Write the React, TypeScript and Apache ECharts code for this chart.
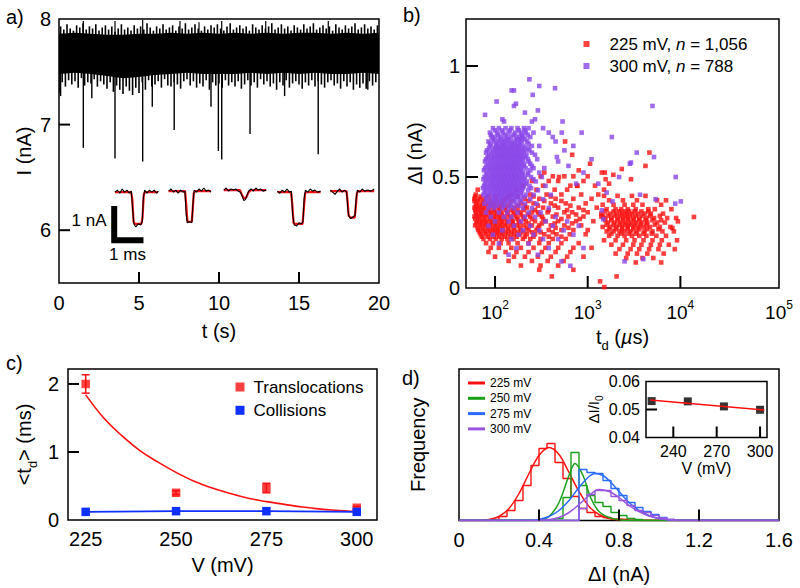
import React, { useEffect, useRef } from 'react';
import * as echarts from 'echarts';

const FONT = '"Liberation Sans", Arial, Helvetica, sans-serif';
const RED = '#ff1010';
const PURPLE = '#8a45e8';
const BLUE_C = '#1030ff';
const GREEN_D = '#19a019';
const BLUE_D = '#2a6aff';
const PURPLE_D = '#9a55e0';

// ---------------- Panel a: current trace ----------------
const aCoreT = [0, 1, 2, 3, 4, 5, 6, 7, 8, 9, 10, 11, 12, 13, 14, 15, 16, 17, 18, 19, 20];
const aCoreHigh = [7.86, 7.87, 7.86, 7.85, 7.85, 7.86, 7.86, 7.87, 7.86, 7.87, 7.86, 7.87, 7.86, 7.87, 7.86, 7.87, 7.87, 7.86, 7.87, 7.86, 7.87];
const aCoreLow = [7.48, 7.49, 7.48, 7.46, 7.44, 7.45, 7.47, 7.48, 7.49, 7.48, 7.48, 7.48, 7.49, 7.48, 7.49, 7.48, 7.49, 7.48, 7.48, 7.49, 7.48];
const aUpperTips = [
  7.93, 7.90, 7.95, 7.91, 7.89, 7.94, 7.92, 7.96, 7.90, 7.93,
  7.91, 7.95, 7.89, 7.92, 7.94, 7.90, 7.93, 7.88, 7.91, 7.95,
  7.90, 7.92, 7.89, 7.94, 7.91, 7.93, 7.90, 7.96, 7.92, 7.89,
  7.93, 7.91, 7.95, 7.90, 7.92, 7.94, 7.89, 7.93, 7.91, 7.96,
  7.90, 7.92, 7.95, 7.91, 7.89, 7.93, 7.90, 7.94, 7.92, 7.95,
  7.91, 7.89, 7.93, 7.96, 7.90, 7.92, 7.94, 7.91, 7.93, 7.89,
  7.95, 7.92, 7.90, 7.94, 7.91, 7.93, 7.96, 7.90, 7.92, 7.95,
  7.91, 7.93, 7.89, 7.94, 7.92, 7.90, 7.95, 7.91, 7.93, 7.96,
  7.90, 7.92, 7.94, 7.91, 7.93, 7.89, 7.95, 7.92, 7.90, 7.94,
  7.91, 7.93, 7.96, 7.90, 7.92, 7.95, 7.91, 7.93, 7.90, 7.94,
];
const aLowerTips = [
  7.30, 7.40, 7.36, 7.42, 7.38, 7.41, 7.35, 7.44, 7.37, 7.40,
  7.39, 7.43, 7.36, 7.41, 7.38, 7.34, 7.40, 7.31, 7.37, 7.33,
  7.29, 7.36, 7.32, 7.28, 7.35, 7.30, 7.40, 7.33, 7.42, 7.36,
  7.38, 7.41, 7.35, 7.43, 7.37, 7.36, 7.40, 7.38, 7.34, 7.41,
  7.43, 7.37, 7.41, 7.35, 7.39, 7.36, 7.42, 7.33, 7.40, 7.37,
  7.39, 7.35, 7.42, 7.37, 7.40, 7.36, 7.41, 7.34, 7.38, 7.42,
  7.37, 7.40, 7.35, 7.43, 7.38, 7.41, 7.36, 7.39, 7.33, 7.40,
  7.37, 7.42, 7.35, 7.39, 7.41, 7.38, 7.34, 7.40, 7.37, 7.42,
  7.36, 7.41, 7.38, 7.35, 7.40, 7.42, 7.37, 7.39, 7.34, 7.41,
  7.36, 7.40, 7.33, 7.38, 7.35, 7.39, 7.34, 7.41, 7.37, 7.40,
];
const aSpikeT = [0.1, 1.52, 2.05, 3.5, 5.23, 5.83, 7.2, 9.5, 9.96, 10.17, 11.94, 14.1, 16.2, 19.3];
const aSpikeMin = [7.27, 6.78, 7.25, 6.68, 6.65, 7.17, 6.95, 7.17, 6.75, 6.67, 6.91, 7.27, 6.72, 7.33];
const aUpSpikeT = [1.52, 3.5, 5.23, 7.56, 8.75, 10.17, 12.92, 16.83];
const aUpSpikeMax = [7.98, 7.98, 7.99, 7.98, 7.97, 7.98, 7.98, 7.98];

// Example events (inset traces drawn in panel a's own units)
const aEventBlack: number[][][] = [
  [[3.5, 6.36], [3.65, 6.38], [3.8, 6.35], [3.95, 6.39], [4.1, 6.36], [4.25, 6.38], [4.4, 6.35], [4.52, 6.37], [4.6, 6.2], [4.68, 6.06], [4.8, 6.03], [4.95, 6.06], [5.1, 6.05], [5.2, 6.08], [5.27, 6.3], [5.35, 6.38], [5.5, 6.35], [5.65, 6.38], [5.8, 6.36], [5.95, 6.38], [6.1, 6.35], [6.2, 6.37]],
  [[6.85, 6.37], [7.0, 6.39], [7.15, 6.36], [7.3, 6.38], [7.45, 6.35], [7.6, 6.38], [7.75, 6.36], [7.87, 6.37], [7.95, 6.15], [8.02, 6.07], [8.15, 6.08], [8.3, 6.07], [8.37, 6.25], [8.45, 6.38], [8.6, 6.36], [8.75, 6.39], [8.9, 6.37], [9.05, 6.4], [9.2, 6.37], [9.35, 6.38], [9.5, 6.36]],
  [[10.3, 6.38], [10.45, 6.4], [10.6, 6.37], [10.75, 6.39], [10.9, 6.38], [11.05, 6.39], [11.2, 6.37], [11.35, 6.36], [11.45, 6.32], [11.55, 6.28], [11.65, 6.29], [11.75, 6.33], [11.85, 6.37], [12.0, 6.39], [12.15, 6.37], [12.3, 6.4], [12.45, 6.38], [12.6, 6.39], [12.75, 6.37], [12.95, 6.38]],
  [[13.65, 6.37], [13.8, 6.35], [13.95, 6.38], [14.1, 6.36], [14.25, 6.39], [14.4, 6.36], [14.52, 6.37], [14.6, 6.15], [14.7, 6.05], [14.85, 6.04], [15.0, 6.07], [15.15, 6.06], [15.25, 6.08], [15.32, 6.3], [15.4, 6.38], [15.55, 6.36], [15.7, 6.39], [15.85, 6.37], [16.0, 6.38], [16.15, 6.36], [16.35, 6.37]],
  [[16.95, 6.38], [17.1, 6.36], [17.25, 6.34], [17.4, 6.37], [17.55, 6.39], [17.7, 6.36], [17.85, 6.38], [17.98, 6.36], [18.05, 6.2], [18.12, 6.13], [18.25, 6.11], [18.4, 6.13], [18.5, 6.14], [18.57, 6.3], [18.65, 6.38], [18.8, 6.36], [18.95, 6.39], [19.1, 6.37], [19.3, 6.38], [19.5, 6.37], [19.7, 6.39]],
];
const aEventFit: number[][][] = [
  [[3.5, 6.36], [4.5, 6.36], [4.58, 6.3], [4.66, 6.08], [4.75, 6.06], [5.15, 6.06], [5.22, 6.12], [5.3, 6.34], [5.38, 6.36], [6.2, 6.36]],
  [[6.85, 6.37], [7.88, 6.37], [7.95, 6.25], [8.02, 6.09], [8.1, 6.08], [8.3, 6.08], [8.36, 6.2], [8.42, 6.35], [8.5, 6.37], [9.5, 6.37]],
  [[10.3, 6.38], [11.3, 6.38], [11.45, 6.33], [11.55, 6.3], [11.7, 6.31], [11.85, 6.36], [12.0, 6.38], [12.95, 6.38]],
  [[13.65, 6.36], [14.5, 6.36], [14.58, 6.25], [14.66, 6.07], [14.75, 6.06], [15.22, 6.06], [15.3, 6.2], [15.38, 6.35], [15.45, 6.36], [16.35, 6.36]],
  [[16.95, 6.37], [17.97, 6.37], [18.04, 6.27], [18.1, 6.14], [18.2, 6.12], [18.48, 6.12], [18.55, 6.22], [18.62, 6.35], [18.7, 6.37], [19.7, 6.37]],
];
const aScaleBar = [[3.45, 6.23], [3.45, 5.905], [5.28, 5.905]];
const aTicksX = [5, 10, 15];
const aTicksY = [6, 7];

// ---------------- Panel b: scatter (t_d in µs, ΔI in nA) ----------------
const b225LeftRows: [number, number[]][] = [
  [0.503, [310, 420, 560, 700, 1000]],
  [0.482, [250, 380, 480, 900]],
  [0.461, [200, 330, 650, 770, 1200]],
  [0.443, [65, 170, 280, 440, 600, 1500]],
  [0.421, [62, 150, 240, 360, 520, 850, 1300]],
  [0.412, [61, 70, 86, 100, 140, 175, 260, 400]],
  [0.402, [60, 68, 78, 130, 210, 300, 450, 700, 1100]],
  [0.392, [60, 65, 75, 88, 104, 122, 150, 230, 340, 520]],
  [0.381, [63, 72, 82, 95, 115, 190, 260, 400, 580, 950]],
  [0.371, [62, 69, 78, 90, 103, 119, 140, 175, 210, 290, 440, 650]],
  [0.362, [60, 66, 74, 84, 96, 110, 128, 160, 220, 330, 480, 800, 1250]],
  [0.351, [61, 68, 76, 86, 98, 112, 130, 150, 175, 205, 270, 380, 600, 900]],
  [0.341, [62, 70, 79, 89, 101, 116, 135, 158, 185, 250, 290, 370, 560, 680, 1000]],
  [0.331, [63, 71, 80, 91, 104, 118, 138, 162, 190, 225, 300, 460, 750]],
  [0.322, [60, 67, 75, 85, 97, 110, 125, 145, 170, 200, 240, 320, 420, 620, 900, 1400]],
  [0.311, [61, 68, 77, 88, 100, 114, 130, 150, 175, 205, 250, 330, 520, 820]],
  [0.301, [64, 72, 81, 92, 104, 118, 135, 155, 180, 215, 270, 350, 480, 750, 1150]],
  [0.291, [63, 71, 80, 91, 103, 117, 133, 155, 185, 230, 320, 440, 680]],
  [0.282, [61, 69, 78, 88, 100, 113, 128, 148, 172, 205, 250, 300, 400, 560, 850]],
  [0.271, [65, 73, 83, 94, 106, 120, 137, 158, 185, 220, 290, 450, 620]],
  [0.261, [66, 75, 85, 96, 108, 122, 140, 162, 190, 230, 280, 380, 520, 700, 1000]],
  [0.251, [68, 78, 89, 101, 114, 130, 150, 175, 205, 250, 310, 420]],
  [0.242, [70, 80, 92, 105, 120, 138, 160, 185, 220, 270, 340, 460, 640, 950]],
  [0.231, [72, 84, 97, 111, 127, 148, 172, 210, 260, 380, 520]],
  [0.221, [75, 88, 102, 118, 136, 158, 200, 240, 310, 420, 580]],
  [0.202, [80, 95, 115, 140, 175, 230, 300, 380, 520, 800]],
  [0.181, [90, 110, 150, 190, 260, 350, 480, 700, 1100]],
  [0.162, [85, 130, 170, 230, 320, 450, 650]],
  [0.141, [100, 160, 210, 290, 400, 600, 900]],
  [0.122, [140, 250, 370, 550]],
  [0.101, [190, 310, 480]],
  [0.082, [300, 700]],
  [0.052, [410, 2050]],
];
const b225RightRows: [number, number[]][] = [
  [0.415, [1500, 2100, 3000, 4200]],
  [0.395, [1700, 2400, 3400, 5600, 7000]],
  [0.375, [1450, 1900, 2500, 3100, 3900, 6200]],
  [0.355, [1600, 2000, 2300, 2700, 3300, 4500, 5300, 8000]],
  [0.345, [1550, 1900, 2200, 2500, 2800, 3200, 3800, 4500]],
  [0.335, [1400, 1750, 2050, 2350, 2650, 3000, 3500, 4100, 4800, 6500]],
  [0.325, [1450, 1650, 1950, 2250, 2550, 2850, 3300, 3900, 4700, 6000]],
  [0.315, [1500, 1800, 2100, 2400, 2700, 3100, 3600, 4300, 5200, 7200, 9000]],
  [0.305, [1550, 1800, 2100, 2400, 2750, 3150, 3600, 4200, 5000, 6200]],
  [0.295, [1650, 1950, 2250, 2550, 2900, 3300, 3800, 4400, 5600, 6800]],
  [0.285, [1600, 1900, 2200, 2500, 2800, 3200, 3700, 4300, 5300]],
  [0.275, [1450, 1750, 2050, 2350, 2700, 3100, 3500, 4000, 4700, 6000, 7800]],
  [0.265, [1700, 2000, 2350, 2700, 3100, 3600, 4400, 5800]],
  [0.255, [1600, 1900, 2200, 2500, 2900, 3400, 4100, 5000, 6400, 8500]],
  [0.245, [1800, 2300, 2800, 3300, 4000, 4900]],
  [0.235, [1700, 2100, 2500, 3000, 3600, 4300, 5500, 7000]],
  [0.215, [1500, 2000, 2600, 3200, 4000, 5000, 6300, 9200]],
  [0.195, [1800, 2400, 3100, 3800, 4800, 6000, 7500]],
  [0.175, [2200, 2900, 3600, 4600, 5800, 8700]],
  [0.155, [2000, 2700, 3400, 4400, 6600]],
  [0.135, [2600, 3900, 5100]],
  [0.115, [3300, 6200]],
];
const b225Extra = [
  [570, 0.66], [680, 0.6], [1060, 0.56], [340, 0.52], [1530, 0.52], [490, 0.5], [770, 0.46], [4630, 0.61],
  [2330, 0.536], [2930, 0.49], [1420, 0.52], [1560, 0.49], [1700, 0.47], [1890, 0.51], [14000, 0.32],
  [4200, 0.55], [800, 0.53], [1360, 0.03], [1510, 0.004], [9400, 0.3], [8200, 0.27],
];
const b300Rows: [number, number[]][] = [
  [0.72, [95, 110, 130, 150, 175, 205, 230]],
  [0.71, [100, 118, 145, 180, 210]],
  [0.70, [88, 105, 122, 140, 165, 190, 215, 260]],
  [0.69, [90, 108, 128, 158, 195, 225]],
  [0.68, [92, 100, 115, 135, 150, 170, 185, 200, 240]],
  [0.67, [95, 112, 126, 140, 172, 190, 212]],
  [0.66, [85, 98, 108, 120, 132, 145, 160, 178, 195, 222]],
  [0.65, [88, 104, 118, 130, 148, 164, 186, 230]],
  [0.64, [90, 102, 112, 124, 138, 152, 168, 183, 205, 250, 300]],
  [0.63, [86, 100, 110, 121, 134, 147, 162, 178, 198, 225]],
  [0.62, [82, 95, 105, 116, 128, 142, 156, 172, 190, 212, 235]],
  [0.61, [80, 91, 102, 113, 124, 137, 151, 166, 183, 203, 250]],
  [0.60, [86, 97, 108, 119, 131, 145, 160, 176, 194, 218, 270]],
  [0.59, [83, 94, 105, 116, 127, 140, 155, 171, 189, 212]],
  [0.58, [80, 90, 100, 111, 122, 134, 148, 163, 180, 200, 226, 285]],
  [0.57, [78, 88, 99, 110, 121, 133, 146, 160, 176, 195, 230]],
  [0.56, [84, 94, 104, 115, 126, 139, 153, 168, 186, 206, 240]],
  [0.55, [81, 91, 101, 112, 124, 137, 151, 166, 183, 204, 250]],
  [0.54, [78, 88, 98, 108, 119, 131, 144, 158, 174, 192, 215, 260, 340]],
  [0.53, [76, 86, 96, 106, 117, 129, 142, 156, 172, 190, 240]],
  [0.52, [82, 92, 102, 112, 123, 135, 148, 163, 180, 199, 225, 300]],
  [0.51, [80, 90, 100, 111, 122, 134, 147, 161, 177, 197, 228]],
  [0.50, [77, 86, 96, 106, 117, 128, 140, 154, 170, 188, 210, 245, 320]],
  [0.49, [75, 84, 94, 104, 115, 126, 138, 151, 166, 183, 204, 260]],
  [0.48, [80, 90, 100, 110, 121, 133, 146, 161, 177, 196, 220, 275]],
  [0.47, [78, 88, 98, 108, 119, 130, 143, 157, 173, 192, 215]],
  [0.46, [76, 85, 95, 105, 115, 126, 138, 152, 167, 185, 205, 235, 350]],
  [0.45, [74, 83, 93, 103, 113, 124, 136, 149, 164, 181, 200, 245]],
  [0.44, [79, 89, 99, 109, 120, 132, 145, 160, 176, 195, 228, 290]],
  [0.43, [77, 87, 97, 107, 118, 129, 141, 155, 171, 190]],
  [0.42, [75, 84, 94, 104, 114, 125, 137, 151, 168, 190, 215, 260, 400]],
  [0.41, [82, 97, 110, 122, 138, 155, 175, 205]],
  [0.40, [80, 92, 103, 116, 130, 146, 165, 185, 240, 330]],
  [0.39, [84, 96, 108, 120, 136, 158, 190]],
  [0.38, [77, 88, 100, 113, 128, 145, 170, 210, 280]],
  [0.37, [90, 105, 125, 150, 180]],
  [0.36, [85, 98, 120, 140, 160, 200, 250, 380]],
  [0.34, [80, 110, 135, 175, 230, 310]],
  [0.32, [90, 125, 150, 210, 270, 450]],
  [0.30, [100, 140, 190, 350, 600]],
  [0.28, [85, 160, 240, 420, 800]],
  [0.26, [120, 200, 300, 550]],
  [0.24, [95, 180, 260, 700]],
  [0.22, [150, 330, 480]],
  [0.20, [110, 230]],
  [0.18, [170, 380, 900]],
  [0.15, [140, 290]],
  [0.12, [520, 2500]],
  [0.10, [650]],
];
const b300Extra = [
  [235, 0.94], [444, 0.9], [300, 0.91], [151, 0.89], [160, 0.89], [104, 0.84], [255, 0.87], [160, 0.82],
  [78, 0.78], [535, 0.75], [860, 0.7], [168, 0.83], [290, 0.8], [210, 0.79], [120, 0.76], [125, 0.75],
  [250, 0.75], [270, 0.76], [330, 0.72], [1820, 0.68], [3380, 0.61], [5190, 0.59], [2930, 0.565],
  [8900, 0.5], [10100, 0.39], [8800, 0.38], [5400, 0.4], [3670, 0.42], [2180, 0.5], [1600, 0.43],
  [1850, 0.39], [1470, 0.31], [3980, 0.13], [1420, 0.35], [5000, 0.82], [700, 0.64], [1100, 0.58],
  [560, 0.62], [450, 0.66], [380, 0.7], [620, 0.55], [900, 0.52], [1300, 0.47], [480, 0.57], [750, 0.47],
  [525, 0.7], [420, 0.68], [465, 0.59], [2850, 0.56],
];
const bTicksX = [100, 1000, 10000];
const bTicksY = [0.5, 1];

// ---------------- Panel c ----------------
const cV = [225, 250, 275, 300];
const cTransMean = [2.0, 0.4, 0.47, 0.18];
const cTransErr = [0.135, 0.03, 0.07, 0.02];
const cCollMean = [0.12, 0.13, 0.13, 0.12];
const cFitV = [225, 230, 235, 240, 245, 250, 255, 260, 265, 270, 275, 280, 285, 290, 295, 300];
const cFitY = [1.84, 1.5, 1.24, 1.02, 0.85, 0.7, 0.57, 0.47, 0.39, 0.32, 0.27, 0.23, 0.19, 0.16, 0.14, 0.12];
const cTicksY = [1, 2];

// ---------------- Panel d ----------------
const dBinWidth = 0.04;
const dHistStart = [0.16, 0.48, 0.6, 0.6];
const dHist225 = [1, 4, 10, 20, 35, 55, 72, 77, 58, 42, 24, 12, 8, 4, 3, 1.5, 1];
const dHist250 = [2, 23, 68, 35, 25, 18, 14, 8, 5, 2, 1];
const dHist275 = [51, 48, 47, 40, 32, 25, 18, 13, 9, 6, 3, 1];
const dHist300 = [12, 26, 30, 30, 24, 20, 15, 10, 8, 5, 2.5, 1];
const dFit225X = [0.1, 0.15, 0.2, 0.25, 0.3, 0.35, 0.4, 0.45, 0.5, 0.55, 0.6, 0.65, 0.7, 0.75, 0.8, 0.9];
const dFit225Y = [0, 1, 4, 12, 27, 47, 65, 73, 66, 48, 29, 14, 6, 2, 0.7, 0];
const dFit250X = [0.4, 0.45, 0.5, 0.55, 0.58, 0.62, 0.66, 0.7, 0.75, 0.8, 0.85];
const dFit250Y = [0.5, 4, 18, 45, 57, 45, 22, 9, 3, 0.8, 0];
const dFit275X = [0.35, 0.4, 0.45, 0.5, 0.55, 0.6, 0.65, 0.68, 0.72, 0.76, 0.8, 0.85, 0.9, 0.95, 1.0, 1.05, 1.1];
const dFit275Y = [0, 1, 4, 10, 20, 33, 44, 47, 45, 38, 29, 18, 10, 5, 2, 0.7, 0];
const dFit300X = [0.4, 0.45, 0.5, 0.55, 0.6, 0.65, 0.7, 0.75, 0.8, 0.85, 0.9, 0.95, 1.0, 1.05, 1.1, 1.15];
const dFit300Y = [0, 1, 3, 8, 16, 25, 31, 29, 23, 15, 9, 4.5, 2, 0.7, 0.2, 0];
const dLegend = ['225 mV', '250 mV', '275 mV', '300 mV'];
const dTicksX = [0.4, 0.8, 1.2];
const dInsetV = [225, 250, 275, 300];
const dInsetY = [0.053, 0.0529, 0.0511, 0.0499];
const dInsetFit = [[224, 0.0534], [303, 0.0498]];
const dInsetTicksX = [240, 270, 300];
const dInsetTicksY = [0.05];

// ------------------------------------------------------------
const rowsToPoints = (rows: [number, number[]][]) => {
  const out: number[][] = [];
  rows.forEach(([dI, ts]) => ts.forEach((t) => out.push([t, dI])));
  return out;
};

const histToSteps = (start: number, heights: number[]) => {
  const pts: number[][] = [[0, 0], [start, 0]];
  heights.forEach((h, i) => pts.push([start + i * dBinWidth, h]));
  pts.push([start + heights.length * dBinWidth, 0]);
  pts.push([1.6, 0]);
  return pts;
};

const curveToPts = (xs: number[], ys: number[]) => [[0, 0], ...xs.map((x, i) => [x, ys[i]]), [1.6, 0]];

const vLineSeries = (data: number[][], width: number, color = '#000') => ({
  type: 'custom',
  xAxisIndex: 0,
  yAxisIndex: 0,
  silent: true,
  clip: true,
  encode: { x: 0, y: [1, 2] },
  data,
  renderItem: (_p: any, api: any) => {
    const a = api.coord([api.value(0), api.value(1)]);
    const b = api.coord([api.value(0), api.value(2)]);
    return {
      type: 'line',
      shape: { x1: a[0], y1: a[1], x2: b[0], y2: b[1] },
      style: { stroke: color, lineWidth: width },
    };
  },
});

const axisBase = (fontSize = 20) => ({
  axisLine: { show: false },
  splitLine: { show: false },
  axisTick: { show: false },
  axisLabel: { color: '#000', fontFamily: FONT, fontSize, margin: 8 },
  nameLocation: 'middle',
  nameTextStyle: { color: '#000', fontFamily: FONT, fontSize },
});

const gridBox = (left: number, top: number, width: number, height: number, bg = 'transparent') => ({
  left, top, width, height, show: true, borderColor: '#000', borderWidth: 1.5, backgroundColor: bg,
});

const AX = {
  aX: [0, 20], aY: [5.5, 8],
  bX: [48.6, 115900], bY: [0, 1.2117],
  cX: [220.1, 305.6], cY: [0, 2.22],
  dX: [0, 1.6], dY: [0, 151.5],
  iX: [221.1, 304.8], iY: [0.04, 0.06],
};

const textGraphics = [
  { type: 'text', left: 6, top: 7, style: { text: 'a)', font: `20px ${FONT}`, fill: '#000' } },
  { type: 'text', left: 403, top: 5, style: { text: 'b)', font: `20px ${FONT}`, fill: '#000' } },
  { type: 'text', left: 6, top: 353, style: { text: 'c)', font: `20px ${FONT}`, fill: '#000' } },
  { type: 'text', left: 402, top: 368, style: { text: 'd)', font: `20px ${FONT}`, fill: '#000' } },
  { type: 'text', x: 89, y: 220, style: { text: '1 nA', font: `17px ${FONT}`, fill: '#000', align: 'center', verticalAlign: 'middle' } },
  { type: 'text', x: 127.5, y: 254, style: { text: '1 ms', font: `17px ${FONT}`, fill: '#000', align: 'center', verticalAlign: 'middle' } },
];

// inward tick marks: [gridIndex, points, direction, length]
const tickSpecs: [number, number[][], 'up' | 'right', number][] = [
  [0, aTicksX.map((v) => [v, AX.aY[0]]), 'up', 11],
  [0, aTicksY.map((v) => [AX.aX[0], v]), 'right', 11],
  [1, bTicksX.map((v) => [v, AX.bY[0]]), 'up', 12],
  [1, bTicksY.map((v) => [AX.bX[0], v]), 'right', 12],
  [2, cTicksY.map((v) => [AX.cX[0], v]), 'right', 11],
  [3, dTicksX.map((v) => [v, AX.dY[0]]), 'up', 11],
  [4, dInsetTicksX.map((v) => [v, AX.iY[0]]), 'up', 11],
  [4, dInsetTicksY.map((v) => [AX.iX[0], v]), 'right', 11],
];

function buildOption(): any {
  const tipsUpper = aUpperTips.map((v, i) => [i * 0.2 + 0.1, 7.8, v]);
  const tipsLower = aLowerTips.map((v, i) => [i * 0.2, 7.55, v]);
  const downSpikes = aSpikeT.map((t, i) => [t, 7.5, aSpikeMin[i]]);
  const upSpikes = aUpSpikeT.map((t, i) => [t, 7.85, aUpSpikeMax[i]]);

  const subRich = (size: number) => ({
    m: { fontSize: size, fontFamily: FONT, color: '#000', lineHeight: size + 2, verticalAlign: 'top' },
    sub: { fontSize: Math.round(size * 0.65), fontFamily: FONT, color: '#000', lineHeight: Math.round(size * 0.65), padding: [Math.round(size * 0.6), 0, 0, 0], verticalAlign: 'top' },
    it: { fontSize: size, fontFamily: FONT, color: '#000', fontStyle: 'italic', lineHeight: size + 2, verticalAlign: 'top' },
  });

  const series: any[] = [];

  // ---- panel a
  series.push({
    type: 'custom', xAxisIndex: 0, yAxisIndex: 0, silent: true, clip: true,
    data: [[10, 7.6]],
    renderItem: (_p: any, api: any) => {
      const top = aCoreT.map((t, i) => api.coord([t, aCoreHigh[i]]));
      const bot = aCoreT.map((t, i) => api.coord([t, aCoreLow[i]])).reverse();
      return { type: 'polygon', shape: { points: [...top, ...bot] }, style: { fill: '#000' } };
    },
  });
  series.push(vLineSeries(tipsUpper, 1.6));
  series.push(vLineSeries(tipsLower, 1.6));
  series.push(vLineSeries(downSpikes, 1.4));
  series.push(vLineSeries(upSpikes, 1.2));
  aEventFit.forEach((ev) => series.push({
    type: 'line', xAxisIndex: 0, yAxisIndex: 0, data: ev, showSymbol: false, silent: true,
    lineStyle: { color: RED, width: 2.2 },
  }));
  aEventBlack.forEach((ev) => series.push({
    type: 'line', xAxisIndex: 0, yAxisIndex: 0, data: ev, showSymbol: false, silent: true,
    lineStyle: { color: '#000', width: 1.1 },
  }));
  series.push({
    type: 'line', xAxisIndex: 0, yAxisIndex: 0, data: aScaleBar, showSymbol: false, silent: true,
    lineStyle: { color: '#000', width: 6, cap: 'butt', join: 'miter' },
  });

  // ---- panel b
  series.push({
    name: '225 mV, n = 1,056', type: 'scatter', xAxisIndex: 1, yAxisIndex: 1,
    symbol: 'rect', symbolSize: 4.6, itemStyle: { color: RED },
    data: [...rowsToPoints(b225LeftRows), ...rowsToPoints(b225RightRows), ...b225Extra],
  });
  series.push({
    name: '300 mV, n = 788', type: 'scatter', xAxisIndex: 1, yAxisIndex: 1,
    symbol: 'rect', symbolSize: 4.6, itemStyle: { color: PURPLE },
    data: [...rowsToPoints(b300Rows), ...b300Extra],
  });

  // ---- panel c
  series.push({
    type: 'line', xAxisIndex: 2, yAxisIndex: 2, showSymbol: false, smooth: 0.4, silent: true,
    data: cFitV.map((v, i) => [v, cFitY[i]]), lineStyle: { color: RED, width: 1.6 },
  });
  series.push({
    type: 'custom', xAxisIndex: 2, yAxisIndex: 2, silent: true,
    encode: { x: 0, y: [1, 2] },
    data: cV.map((v, i) => [v, cTransMean[i] - cTransErr[i], cTransMean[i] + cTransErr[i]]),
    renderItem: (_p: any, api: any) => {
      const lo = api.coord([api.value(0), api.value(1)]);
      const hi = api.coord([api.value(0), api.value(2)]);
      const w = 4;
      const st = { stroke: RED, lineWidth: 1.5 };
      return {
        type: 'group',
        children: [
          { type: 'line', shape: { x1: lo[0], y1: lo[1], x2: hi[0], y2: hi[1] }, style: st },
          { type: 'line', shape: { x1: lo[0] - w, y1: lo[1], x2: lo[0] + w, y2: lo[1] }, style: st },
          { type: 'line', shape: { x1: hi[0] - w, y1: hi[1], x2: hi[0] + w, y2: hi[1] }, style: st },
        ],
      };
    },
  });
  series.push({
    name: 'Translocations', type: 'scatter', xAxisIndex: 2, yAxisIndex: 2,
    symbol: 'rect', symbolSize: 8.5, itemStyle: { color: RED },
    data: cV.map((v, i) => [v, cTransMean[i]]),
  });
  series.push({
    name: 'Collisions', type: 'line', xAxisIndex: 2, yAxisIndex: 2,
    symbol: 'rect', symbolSize: 8.5, showSymbol: true,
    itemStyle: { color: BLUE_C }, lineStyle: { color: BLUE_C, width: 1.6 },
    data: cV.map((v, i) => [v, cCollMean[i]]),
  });

  // ---- panel d
  const dColors = [RED, GREEN_D, BLUE_D, PURPLE_D];
  const dHists = [dHist225, dHist250, dHist275, dHist300];
  const dFits = [[dFit225X, dFit225Y], [dFit250X, dFit250Y], [dFit275X, dFit275Y], [dFit300X, dFit300Y]];
  dLegend.forEach((name, k) => {
    series.push({
      name, type: 'line', xAxisIndex: 3, yAxisIndex: 3, step: 'end', showSymbol: false, silent: true,
      data: histToSteps(dHistStart[k], dHists[k]),
      itemStyle: { color: dColors[k] }, lineStyle: { color: dColors[k], width: 1.4 },
    });
    series.push({
      name, type: 'line', xAxisIndex: 3, yAxisIndex: 3, smooth: 0.35, showSymbol: false, silent: true,
      data: curveToPts(dFits[k][0], dFits[k][1]),
      itemStyle: { color: dColors[k] }, lineStyle: { color: dColors[k], width: 1.5 },
    });
  });
  series.push({
    type: 'line', xAxisIndex: 4, yAxisIndex: 4, showSymbol: false, silent: true,
    data: dInsetFit, lineStyle: { color: RED, width: 1.5 },
  });
  series.push({
    type: 'scatter', xAxisIndex: 4, yAxisIndex: 4, symbol: 'rect', symbolSize: 8,
    itemStyle: { color: '#000' }, data: dInsetV.map((v, i) => [v, dInsetY[i]]),
  });

  const bLabelRich = {
    m: { fontSize: 19, fontFamily: FONT, color: '#000', lineHeight: 21, verticalAlign: 'bottom' },
    sup: { fontSize: 12, fontFamily: FONT, color: '#000', lineHeight: 12, padding: [0, 0, 11, 0], verticalAlign: 'bottom' },
  };

  return {
    animation: false,
    backgroundColor: '#fff',
    textStyle: { fontFamily: FONT },
    grid: [
      gridBox(59, 19, 320, 264),
      gridBox(466, 19, 313, 269),
      gridBox(68, 369, 309, 151),
      gridBox(459, 369, 320, 151.5),
      gridBox(646, 381.5, 121, 56, '#fff'),
    ],
    xAxis: [
      {
        ...axisBase(), gridIndex: 0, type: 'value', min: AX.aX[0], max: AX.aX[1], interval: 5,
        axisLabel: { ...axisBase().axisLabel, margin: 10 },
        name: 't (s)', nameGap: 38,
      },
      {
        ...axisBase(), gridIndex: 1, type: 'log', logBase: 10, min: AX.bX[0], max: AX.bX[1], splitNumber: 4,
        axisLabel: {
          ...axisBase().axisLabel, margin: 13, showMinLabel: false, showMaxLabel: true,
          formatter: (v: number) => `{m|10}{sup|${Math.round(Math.log10(v))}}`,
          rich: bLabelRich,
        },
        name: '{m|t}{sub|d}{m| (}{it|µ}{m|s)}', nameGap: 39,
        nameTextStyle: { ...axisBase().nameTextStyle, rich: subRich(20) },
      },
      {
        ...axisBase(), gridIndex: 2, type: 'value', min: AX.cX[0], max: AX.cX[1],
        axisLabel: { ...axisBase().axisLabel, margin: 9, customValues: [225, 250, 275, 300] },
        name: 'V (mV)', nameGap: 35,
      },
      {
        ...axisBase(), gridIndex: 3, type: 'value', min: AX.dX[0], max: AX.dX[1], interval: 0.4,
        axisLabel: { ...axisBase().axisLabel, margin: 9 },
        name: 'ΔI (nA)', nameGap: 43,
      },
      {
        ...axisBase(16), gridIndex: 4, type: 'value', min: AX.iX[0], max: AX.iX[1],
        axisLabel: { ...axisBase(16).axisLabel, margin: 6, customValues: [240, 270, 300] },
        name: 'V (mV)', nameGap: 20,
      },
    ],
    yAxis: [
      {
        ...axisBase(), gridIndex: 0, type: 'value', min: AX.aY[0], max: AX.aY[1],
        axisLabel: { ...axisBase().axisLabel, margin: 8, customValues: [6, 7, 8] },
        name: 'I (nA)', nameGap: 25,
      },
      {
        ...axisBase(), gridIndex: 1, type: 'value', min: AX.bY[0], max: AX.bY[1], interval: 0.5,
        axisLabel: { ...axisBase().axisLabel, margin: 6, showMaxLabel: false },
        name: 'ΔI (nA)', nameGap: 41,
      },
      {
        ...axisBase(), gridIndex: 2, type: 'value', min: AX.cY[0], max: AX.cY[1], interval: 1,
        axisLabel: { ...axisBase().axisLabel, margin: 9, showMaxLabel: false },
        name: '{m|<t}{sub|d}{m|> (ms)}', nameGap: 32,
        nameTextStyle: { ...axisBase().nameTextStyle, rich: subRich(20) },
      },
      {
        ...axisBase(), gridIndex: 3, type: 'value', min: AX.dY[0], max: AX.dY[1],
        axisLabel: { show: false },
        name: 'Frequency', nameGap: 31,
      },
      {
        ...axisBase(16), gridIndex: 4, type: 'value', min: AX.iY[0], max: AX.iY[1], interval: 0.01,
        axisLabel: { ...axisBase(16).axisLabel, margin: 6 },
        name: '{m|ΔI/I}{sub|0}', nameGap: 42,
        nameTextStyle: { ...axisBase(15).nameTextStyle, rich: subRich(15) },
      },
    ],
    legend: [
      {
        data: ['225 mV, n = 1,056', '300 mV, n = 788'],
        orient: 'vertical', left: 578.5, top: 29, icon: 'rect', itemWidth: 6, itemHeight: 6, itemGap: 2,
        formatter: (name: string) => name.replace(' n ', ' {i|n} '),
        textStyle: {
          color: '#000', fontFamily: FONT, fontSize: 17, lineHeight: 20, padding: [0, 0, 0, 15],
          rich: { i: { fontStyle: 'italic', fontFamily: FONT, fontSize: 17, color: '#000' } },
        },
        selectedMode: false,
      },
      {
        data: ['Translocations', 'Collisions'],
        orient: 'vertical', left: 230.5, top: 372, icon: 'rect', itemWidth: 9, itemHeight: 9, itemGap: 3.3,
        textStyle: { color: '#000', fontFamily: FONT, fontSize: 17, lineHeight: 20, padding: [0, 0, 0, 4] },
        selectedMode: false,
      },
      {
        data: dLegend,
        orient: 'vertical', left: 463, top: 371, icon: 'rect', itemWidth: 17, itemHeight: 3, itemGap: 1.3,
        textStyle: { color: '#000', fontFamily: FONT, fontSize: 12, lineHeight: 14 },
        selectedMode: false,
      },
    ],
    graphic: textGraphics,
    series,
  };
}

export default function App() {
  const ref = useRef<HTMLDivElement>(null);
  useEffect(() => {
    if (!ref.current) return;
    const chart = echarts.init(ref.current, null, { renderer: 'svg' });
    chart.setOption(buildOption());
    // tick marks placed through each grid's own axis scales
    const ticks: any[] = [];
    tickSpecs.forEach(([gridIndex, pts, dir, len]) => {
      pts.forEach((pt) => {
        const p = chart.convertToPixel({ gridIndex } as any, pt) as number[];
        if (!p || isNaN(p[0]) || isNaN(p[1])) return;
        ticks.push({
          type: 'line', z: 100, silent: true,
          shape: { x1: p[0], y1: p[1], x2: dir === 'up' ? p[0] : p[0] + len, y2: dir === 'up' ? p[1] - len : p[1] },
          style: { stroke: '#000', lineWidth: 2 },
        });
      });
    });
    chart.setOption({ graphic: [...textGraphics, ...ticks] });
    return () => chart.dispose();
  }, []);
  return (
    <div
      ref={ref}
      style={{ position: 'fixed', left: 0, top: 0, width: 800, height: 588, background: '#fff' }}
    />
  );
}
